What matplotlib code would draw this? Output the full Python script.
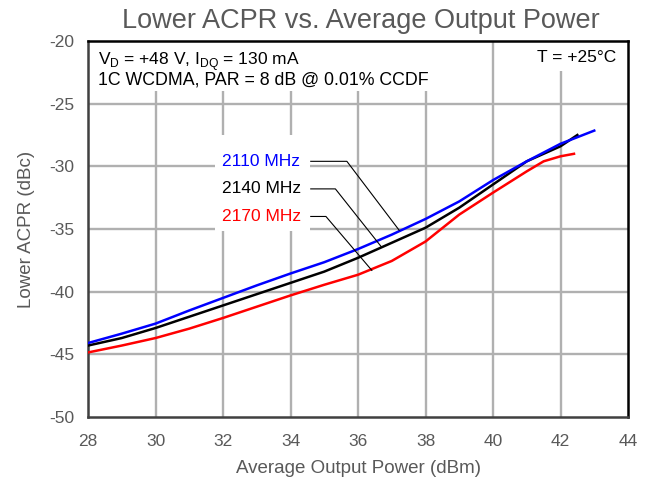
import matplotlib.pyplot as plt
from matplotlib.patches import Rectangle

plt.rcParams['font.family'] = ['Liberation Sans', 'DejaVu Sans']
plt.rcParams['axes.unicode_minus'] = False

# values
x_2110 = [28, 29, 30, 31, 32, 33, 34, 35, 36, 37, 38, 39, 40, 41, 42, 43]
y_2110 = [-44.1, -43.35, -42.55, -41.5, -40.5, -39.5, -38.55, -37.65, -36.6,
          -35.45, -34.2, -32.8, -31.1, -29.6, -28.2, -27.15]

x_2140 = [28, 29, 30, 31, 32, 33, 34, 35, 36, 37, 38, 39, 40, 41, 42, 42.5]
y_2140 = [-44.3, -43.7, -42.9, -42.0, -41.1, -40.2, -39.3, -38.4, -37.3,
          -36.1, -34.9, -33.3, -31.45, -29.6, -28.4, -27.5]

x_2170 = [28, 29, 30, 31, 32, 33, 34, 35, 36, 37, 38, 39, 40, 41, 41.5, 42, 42.4]
y_2170 = [-44.85, -44.3, -43.7, -42.95, -42.1, -41.2, -40.3, -39.45, -38.65,
          -37.55, -36.0, -33.85, -32.1, -30.4, -29.6, -29.2, -29.0]

labels = ['2110 MHz', '2140 MHz', '2170 MHz']
colors = ['#0000ff', '#000000', '#ff0000']
xticks = list(range(28, 45, 2))
yticks = list(range(-50, -19, 5))

grey = '#595959'
gridc = '#b0b0b0'

fig = plt.figure(figsize=(6.52, 4.82), dpi=100)
ax = fig.add_axes([88/652, 65/482, 540/652, 376/482])

ax.set_xlim(28, 44)
ax.set_ylim(-50, -20)
ax.set_xticks(xticks)
ax.set_yticks(yticks)
# grid drawn by hand
for xv in xticks[1:-1]:
    ax.plot([xv, xv], [-50, -20], color=gridc, lw=1.7, zorder=1)
for yv in yticks[1:-1]:
    ax.plot([28, 44], [yv, yv], color=gridc, lw=1.7, zorder=1)
ax.tick_params(length=0, labelsize=12.5, colors=grey)
ax.tick_params(axis='x', pad=12)
ax.tick_params(axis='y', pad=10)

for s in ['top', 'right']:
    ax.spines[s].set_color('black')
    ax.spines[s].set_linewidth(1.8)
for s in ['left', 'bottom']:
    ax.spines[s].set_color('#404040')
    ax.spines[s].set_linewidth(1.8)

ax.plot(x_2170, y_2170, color=colors[2], lw=1.8, zorder=4)
ax.plot(x_2140, y_2140, color=colors[1], lw=1.8, zorder=5)
ax.plot(x_2110, y_2110, color=colors[0], lw=1.8, zorder=6)

# white boxes hiding the grid behind the text
for (x0, y0, w, h) in [(0.0, 0.866, 0.635, 0.134), (0.81, 0.92, 0.19, 0.08),
                       (0.236, 0.495, 0.176, 0.255)]:
    ax.add_patch(Rectangle((x0, y0), w, h, transform=ax.transAxes,
                           facecolor='white', edgecolor='none', zorder=2))

ax.text(0.018, 0.975, r'V$_\mathregular{D}$ = +48 V, I$_\mathregular{DQ}$ = 130 mA',
        transform=ax.transAxes, fontsize=12.5, va='top', zorder=3)
ax.text(0.018, 0.919, '1C WCDMA, PAR = 8 dB @ 0.01% CCDF',
        transform=ax.transAxes, fontsize=12.8, va='top', zorder=3)
ax.text(0.978, 0.975, 'T = +25°C', transform=ax.transAxes, fontsize=12.5,
        va='top', ha='right', zorder=3)

# curve labels with leader lines
label_y = [-29.6, -31.8, -34.0]
leaders = [([34.6, 35.67, 37.22], [-29.6, -29.6, -35.1]),
           ([34.6, 35.33, 36.7], [-31.8, -31.8, -36.45]),
           ([34.6, 35.05, 36.41], [-34.0, -34.0, -38.3])]
for lab, c, ly, (lx, lyy) in zip(labels, colors, label_y, leaders):
    ax.text(31.98, ly, lab, color=c, fontsize=12.5, va='center', zorder=3)
    ax.plot(lx, lyy, color='black', lw=0.8, zorder=7)

ax.set_xlabel('Average Output Power (dBm)', fontsize=13.5, color=grey, labelpad=8)
ax.set_ylabel('Lower ACPR (dBc)', fontsize=13.5, color=grey, labelpad=10)
fig.text(0.554, 0.957, 'Lower ACPR vs. Average Output Power', fontsize=19.5,
         color=grey, ha='center', va='center')

fig.savefig('out.png', dpi=100)
